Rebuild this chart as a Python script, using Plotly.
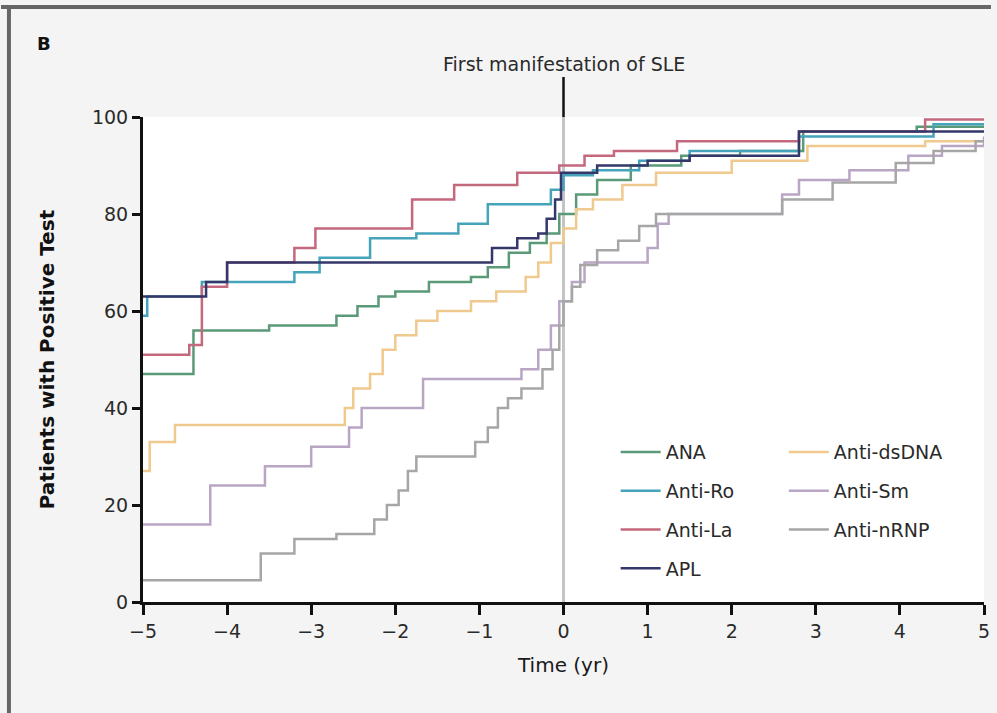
import plotly.graph_objects as go

# ---- data (step curves) ----
ana_t = [-5, -4.4, -3.5, -2.7, -2.45, -2.2, -2.0, -1.6, -1.1, -0.9, -0.65, -0.4, -0.2, -0.05, 0.15, 0.4, 0.8, 1.4, 2.1, 2.85, 4.2, 5]
ana_y = [47, 56, 57, 59, 61, 63, 64, 66, 67, 69, 72, 74, 76, 80, 84, 87, 90, 92, 93, 97, 98, 98]

ro_t = [-5, -4.95, -4.3, -3.2, -2.9, -2.3, -1.75, -1.25, -0.9, -0.15, 0.0, 0.35, 0.9, 1.5, 2.8, 4.4, 5]
ro_y = [59, 63, 66, 68, 71, 75, 76, 78, 82, 85, 88, 89, 91, 93, 96, 98.5, 98.5]

la_t = [-5, -4.45, -4.3, -4.0, -3.2, -2.95, -1.8, -1.3, -0.55, -0.05, 0.25, 0.6, 1.35, 2.8, 4.3, 5]
la_y = [51, 53, 65, 70, 73, 77, 83, 86, 88.5, 90, 92, 93, 95, 97, 99.5, 99.5]

apl_t = [-5, -4.25, -4.0, -0.85, -0.55, -0.3, -0.2, -0.1, -0.03, 0.4, 1.0, 1.5, 2.8, 5]
apl_y = [63, 66, 70, 73, 75, 76, 79, 83, 88.5, 90, 91, 92, 97, 97]

ds_t = [-5, -4.92, -4.62, -2.6, -2.5, -2.3, -2.15, -2.0, -1.75, -1.5, -1.1, -0.8, -0.45, -0.3, -0.15, 0.0, 0.15, 0.35, 0.7, 1.1, 2.0, 2.9, 4.3, 5]
ds_y = [27, 33, 36.5, 40, 44, 47, 52, 55, 58, 60, 62, 64, 67, 70, 74, 77, 81, 83, 86, 88.5, 91, 94, 95, 95]

sm_t = [-5, -4.2, -3.55, -3.0, -2.55, -2.4, -1.67, -0.5, -0.3, -0.15, -0.05, 0.1, 0.25, 1.0, 1.12, 1.25, 2.6, 2.8, 3.4, 4.1, 4.5, 5]
sm_y = [16, 24, 28, 32, 36, 40, 46, 48, 52, 57, 62, 66, 70, 73, 78, 80, 84, 87, 89, 92, 94, 96]

rnp_t = [-5, -3.6, -3.2, -2.7, -2.25, -2.1, -1.96, -1.85, -1.75, -1.05, -0.9, -0.78, -0.66, -0.5, -0.25, -0.13, -0.05, 0.0, 0.1, 0.2, 0.4, 0.65, 0.9, 1.1, 2.6, 3.2, 3.95, 4.4, 4.9, 5]
rnp_y = [4.5, 10, 13, 14, 17, 20, 23, 27, 30, 33, 36, 40, 42, 44, 48, 52, 57, 62, 65, 69.5, 72.5, 74.5, 77.5, 80, 83, 86.5, 90.5, 93, 95, 95]

series = [
    ("ANA", ana_t, ana_y, "#5a9a78", "legend"),
    ("Anti-Ro", ro_t, ro_y, "#45a3ba", "legend"),
    ("Anti-La", la_t, la_y, "#c4687e", "legend"),
    ("APL", apl_t, apl_y, "#34376a", "legend"),
    ("Anti-dsDNA", ds_t, ds_y, "#f0c98e", "legend2"),
    ("Anti-Sm", sm_t, sm_y, "#b8a6c4", "legend2"),
    ("Anti-nRNP", rnp_t, rnp_y, "#a6a6a6", "legend2"),
]

x_ticks = [-5, -4, -3, -2, -1, 0, 1, 2, 3, 4, 5]
y_ticks = [0, 20, 40, 60, 80, 100]

FONT = "DejaVu Sans"

fig = go.Figure()

# vertical reference line at time 0
fig.add_shape(type="line", x0=0, x1=0, y0=0, y1=100, xref="x", yref="y",
              line=dict(color="#c4c4c4", width=3), layer="below")

for name, t, y, col, lg in series:
    fig.add_trace(go.Scatter(
        x=t, y=y, mode="lines", name=name, line=dict(color=col, width=2.5, shape="hv"),
        legend=lg, legendgroup=name, showlegend=True, cliponaxis=False))

fig.update_layout(
    width=997, height=713,
    margin=dict(l=143, r=7, t=117, b=111),
    paper_bgcolor="#f4f4f4", plot_bgcolor="#ffffff",
    font=dict(family=FONT, size=19, color="#222222"),
    xaxis=dict(range=[-5, 5], tickvals=x_ticks, showgrid=False, zeroline=False,
               showline=True, linecolor="#111111", linewidth=3,
               ticks="outside", ticklen=10, tickwidth=3, tickcolor="#111111",
               tickfont=dict(size=19, color="#2a2a2a"),
               title=dict(text="Time (yr)", font=dict(size=20, color="#1a1a1a"), standoff=18)),
    yaxis=dict(range=[0, 100], tickvals=y_ticks, showgrid=False, zeroline=False,
               showline=True, linecolor="#111111", linewidth=3,
               ticks="outside", ticklen=8, tickwidth=3, tickcolor="#111111",
               tickfont=dict(size=19, color="#2a2a2a"),
               title=dict(text="<b>Patients with Positive Test</b>", font=dict(size=20, color="#111111"), standoff=32)),
    legend=dict(x=0.562, y=0.348, xanchor="left", yanchor="top", bgcolor="rgba(0,0,0,0)",
                font=dict(size=19, color="#2a2a2a"), tracegroupgap=11, traceorder="grouped",
                itemwidth=40),
    legend2=dict(x=0.762, y=0.348, xanchor="left", yanchor="top", bgcolor="rgba(0,0,0,0)",
                 font=dict(size=19, color="#2a2a2a"), tracegroupgap=11, traceorder="grouped",
                 itemwidth=40),
    showlegend=True,
)

# annotation with arrow for first manifestation
fig.add_annotation(x=0, y=100, xref="x", yref="y", text="First manifestation of SLE",
                   showarrow=True, arrowhead=0, arrowwidth=2.5, arrowcolor="#111111",
                   ax=0, ay=-40, yanchor="bottom", font=dict(size=19, color="#2a2a2a"))

# panel label
fig.add_annotation(xref="paper", yref="paper", x=(43 - 143) / 847, y=(602 - 43) / 485,
                   xanchor="center", yanchor="middle", text="<b>B</b>", showarrow=False,
                   font=dict(size=18, color="#111111"))

# panel frame (top and left dark borders)
fig.add_shape(type="line", xref="paper", yref="paper",
              x0=(0 - 143) / 847, x1=(997 - 143) / 847, y0=(602 - 7) / 485, y1=(602 - 7) / 485,
              line=dict(color="#666666", width=4))
fig.add_shape(type="line", xref="paper", yref="paper",
              x0=(8 - 143) / 847, x1=(8 - 143) / 847, y0=(602 - 7) / 485, y1=(602 - 713) / 485,
              line=dict(color="#666666", width=4))

fig.write_html("out.html")
